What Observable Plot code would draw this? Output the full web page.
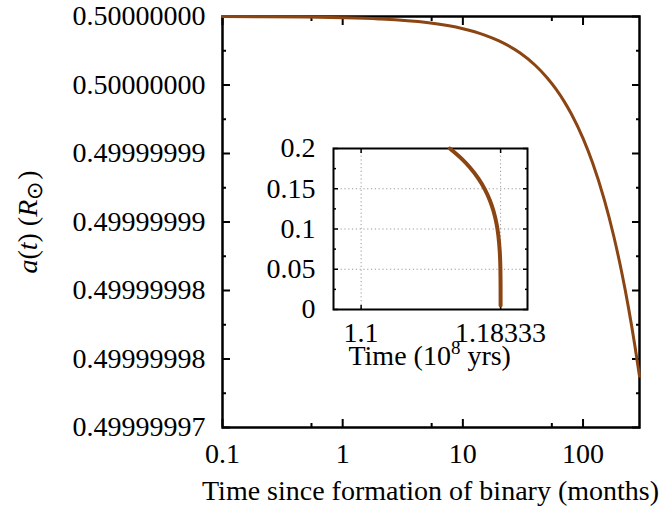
<!DOCTYPE html>
<html><head><meta charset="utf-8">
<script src="https://cdn.jsdelivr.net/npm/d3@7"></script>
<script src="https://cdn.jsdelivr.net/npm/@observablehq/plot@0.6"></script>
<style>
body{margin:0;background:#fff;}
#chart{position:relative;width:659px;height:513px;}
#chart svg{position:absolute;left:0;top:0;}
</style></head><body><div id="chart"></div>
<script>
// Main curve: semi-major axis vs time since formation (months)
const months = [0.1, 0.2, 0.5, 1, 2, 5, 10, 15, 20, 30, 40, 50, 60, 70, 80, 100, 120, 150, 180, 210, 240, 270, 295];
const radius = [0.499999999991, 0.499999999982, 0.499999999956, 0.499999999911, 0.499999999822, 0.499999999555,
  0.49999999911, 0.499999998665, 0.49999999822, 0.49999999733, 0.49999999644, 0.49999999555, 0.49999999466,
  0.49999999377, 0.49999999288, 0.4999999911, 0.49999998932, 0.49999998665, 0.49999998398, 0.49999998131,
  0.49999997864, 0.49999997597, 0.499999973745];
const yTicks = [0.49999997, 0.499999975, 0.49999998, 0.499999985, 0.49999999, 0.499999995, 0.5];
const yTickLabels = ["0.49999997", "0.49999998", "0.49999998", "0.49999999", "0.49999999", "0.50000000", "0.50000000"];
const yMinor = [0.4999999725, 0.4999999775, 0.4999999825, 0.4999999875, 0.4999999925, 0.4999999975];
const xTicks = [0.1, 1, 10, 100];
const xTickLabels = ["0.1", "1", "10", "100"];
const xMinor = [0.55, 5.5, 55];

// Inset: full inspiral (time in 10^8 yrs)
const insetTime = [1.153, 1.16, 1.165, 1.17, 1.174, 1.177, 1.179, 1.181, 1.182, 1.1828, 1.1832, 1.18332, 1.18333];
const insetRadius = [0.2, 0.1874, 0.1764, 0.1629, 0.149, 0.1352, 0.123, 0.1053, 0.0916, 0.0727, 0.0512, 0.027, 0.005];
const insetXTicks = [1.1, 1.18333];
const insetXTickLabels = ["1.1", "1.18333"];
const insetYTicks = [0, 0.05, 0.1, 0.15, 0.2];
const insetYTickLabels = ["0", "0.05", "0.1", "0.15", "0.2"];
const insetYMinor = [0.025, 0.075, 0.125, 0.175];
const insetGridY = [0.05, 0.1, 0.15];

const lineColor = "#8B4513";
const font = "'Liberation Serif', 'Times New Roman', serif";
const fs = 28;

const mainData = months.map((t, i) => ({t, a: radius[i]}));
const insetData = insetTime.map((t, i) => ({t, a: insetRadius[i]}));

const yLabelMap = new Map(yTicks.map((v, i) => [v, yTickLabels[i]]));
const xLabelMap = new Map(xTicks.map((v, i) => [v, xTickLabels[i]]));
const ixLabelMap = new Map(insetXTicks.map((v, i) => [v, insetXTickLabels[i]]));
const iyLabelMap = new Map(insetYTicks.map((v, i) => [v, insetYTickLabels[i]]));

const blank = () => "";

const main = Plot.plot({
  width: 659, height: 513,
  marginLeft: 222, marginRight: 20, marginTop: 16, marginBottom: 86,
  x: {type: "log", domain: [0.1, 295], label: null},
  y: {domain: [0.49999997, 0.5], label: null},
  style: {fontFamily: font, fontSize: fs + "px", color: "black", background: "transparent", overflow: "visible"},
  marks: [
    Plot.frame({stroke: "black", strokeWidth: 2.5}),
    Plot.axisY({anchor: "left", ticks: yTicks, tickSize: 0, tickPadding: 17, tickFormat: d => yLabelMap.get(d), fontSize: fs}),
    Plot.axisX({anchor: "bottom", ticks: xTicks, tickSize: 0, tickPadding: 16, tickFormat: d => xLabelMap.get(d), fontSize: fs}),
    Plot.axisY({anchor: "left", ticks: yTicks, tickSize: -8, tickFormat: blank, strokeWidth: 2}),
    Plot.axisY({anchor: "right", ticks: yTicks, tickSize: -8, tickFormat: blank, strokeWidth: 2}),
    Plot.axisY({anchor: "left", ticks: yMinor, tickSize: -4, tickFormat: blank, strokeWidth: 2}),
    Plot.axisY({anchor: "right", ticks: yMinor, tickSize: -4, tickFormat: blank, strokeWidth: 2}),
    Plot.axisX({anchor: "bottom", ticks: xTicks, tickSize: -8, tickFormat: blank, strokeWidth: 2}),
    Plot.axisX({anchor: "top", ticks: xTicks, tickSize: -8, tickFormat: blank, strokeWidth: 2}),
    Plot.axisX({anchor: "bottom", ticks: xMinor, tickSize: -4, tickFormat: blank, strokeWidth: 2}),
    Plot.axisX({anchor: "top", ticks: xMinor, tickSize: -4, tickFormat: blank, strokeWidth: 2}),
    Plot.line(mainData, {x: "t", y: "a", stroke: lineColor, strokeWidth: 3, curve: "monotone-x"})
  ]
});

const inset = Plot.plot({
  width: 659, height: 513,
  marginLeft: 333, marginRight: 132, marginTop: 148, marginBottom: 204,
  x: {domain: [1.0835, 1.1994], label: null},
  y: {domain: [0, 0.2], label: null},
  style: {fontFamily: font, fontSize: fs + "px", color: "black", background: "transparent", overflow: "visible", pointerEvents: "none"},
  marks: [
    Plot.frame({fill: "white", stroke: null}),
    Plot.gridX({ticks: insetXTicks, stroke: "#9a9a9a", strokeOpacity: 1, strokeWidth: 1, strokeDasharray: "1.2,2.6"}),
    Plot.gridY({ticks: insetGridY, stroke: "#9a9a9a", strokeOpacity: 1, strokeWidth: 1, strokeDasharray: "1.2,2.6"}),
    Plot.frame({stroke: "black", strokeWidth: 2}),
    Plot.axisY({anchor: "left", ticks: insetYTicks, tickSize: 0, tickPadding: 18, tickFormat: d => iyLabelMap.get(d), fontSize: fs}),
    Plot.axisX({anchor: "bottom", ticks: insetXTicks, tickSize: 0, tickPadding: 13, tickFormat: d => ixLabelMap.get(d), fontSize: fs}),
    Plot.axisY({anchor: "left", ticks: insetYTicks, tickSize: -5, tickFormat: blank, strokeWidth: 1.5}),
    Plot.axisY({anchor: "right", ticks: insetYTicks, tickSize: -5, tickFormat: blank, strokeWidth: 1.5}),
    Plot.axisY({anchor: "left", ticks: insetYMinor, tickSize: -3, tickFormat: blank, strokeWidth: 1.5}),
    Plot.axisY({anchor: "right", ticks: insetYMinor, tickSize: -3, tickFormat: blank, strokeWidth: 1.5}),
    Plot.axisX({anchor: "bottom", ticks: insetXTicks, tickSize: -4, tickFormat: blank, strokeWidth: 1.5}),
    Plot.axisX({anchor: "top", ticks: insetXTicks, tickSize: -4, tickFormat: blank, strokeWidth: 1.5}),
    Plot.line(insetData, {x: "t", y: "a", stroke: lineColor, strokeWidth: 4, curve: "monotone-y"})
  ]
});

const chart = document.getElementById("chart");
chart.appendChild(main);
chart.appendChild(inset);

// Axis titles
const ms = d3.select(main);
ms.append("text")
  .attr("x", 430.5).attr("y", 500)
  .attr("text-anchor", "middle")
  .style("font-size", fs + "px").style("font-family", font).attr("fill", "black")
  .text("Time since formation of binary (months)");

const yl = ms.append("text")
  .attr("transform", "translate(37,222) rotate(-90)")
  .attr("text-anchor", "middle")
  .style("font-size", fs + "px").style("font-family", font).attr("fill", "black");
yl.append("tspan").style("font-style", "italic").text("a");
yl.append("tspan").text("(");
yl.append("tspan").style("font-style", "italic").text("t");
yl.append("tspan").text(") (");
yl.append("tspan").style("font-style", "italic").text("R");
yl.append("tspan").attr("dy", 5).style("font-size", "22px").text("\u2299");
yl.append("tspan").attr("dy", -5).attr("dx", 2).text(")");

const is = d3.select(inset);
const il = is.append("text")
  .attr("x", 429.7).attr("y", 365)
  .attr("text-anchor", "middle")
  .style("font-size", fs + "px").style("font-family", font).attr("fill", "black");
il.append("tspan").text("Time (10");
il.append("tspan").attr("dy", -11).style("font-size", "19px").text("8");
il.append("tspan").attr("dy", 11).text(" yrs)");
</script></body></html>
